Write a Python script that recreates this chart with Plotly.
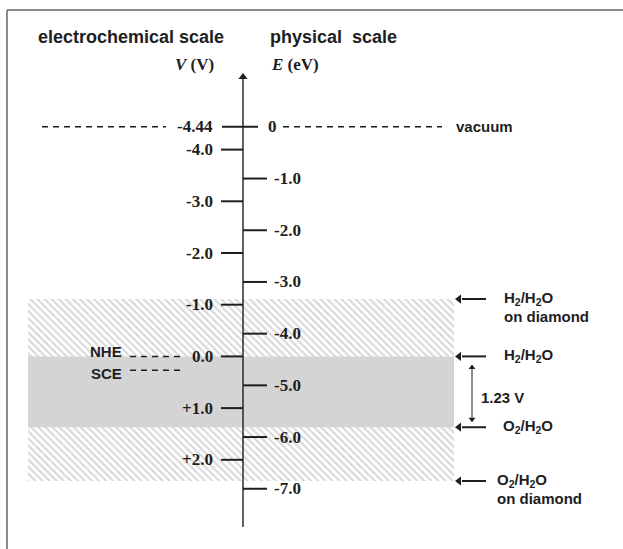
import plotly.graph_objects as go

# ---------------- data ----------------
V_TICKS = [-4.0, -3.0, -2.0, -1.0, 0.0, 1.0, 2.0]
V_TICK_LABELS = ["-4.0", "-3.0", "-2.0", "-1.0", "0.0", "+1.0", "+2.0"]
E_TICKS = [-1.0, -2.0, -3.0, -4.0, -5.0, -6.0, -7.0]
E_TICK_LABELS = ["-1.0", "-2.0", "-3.0", "-4.0", "-5.0", "-6.0", "-7.0"]
VACUUM_V = -4.44              # vacuum level on electrochemical scale (E = 0 eV)
DIAMOND_WINDOW = [-1.11, 2.41]  # H2/H2O and O2/H2O on diamond (as drawn, V)
WATER_WINDOW = [0.0, 1.37]      # H2/H2O and O2/H2O (as drawn, V)
NHE_V = 0.0
SCE_V = 0.27
WINDOW_LABEL = "1.23 V"

# ---------------- geometry helpers ----------------
W, H = 623, 549
Y0, SLOPE = 356.4, 51.7          # pixel mapping of the V axis
V_TOP = (0 - Y0) / SLOPE
V_BOT = (H - Y0) / SLOPE


def vpx(px):
    return (px - Y0) / SLOPE


def dv(px):
    return px / SLOPE


def pap(px):
    return 1 - px / H


def e_to_v(e):
    return VACUUM_V - e


AX = 243
DARK = "#1e1e1e"
SERIF = "Liberation Serif"
SANS = "Liberation Sans"

fig = go.Figure()


def line(x, y, width=1.5, dash=None, color=DARK):
    fig.add_trace(go.Scatter(x=x, y=y, mode="lines",
                             line=dict(color=color, width=width, dash=dash),
                             hoverinfo="skip", showlegend=False))


def head(x, y, symbol, size):
    fig.add_trace(go.Scatter(x=[x], y=[y], mode="markers",
                             marker=dict(symbol=symbol, size=size, color=DARK, line=dict(width=0)),
                             hoverinfo="skip", showlegend=False))


# hatched diamond window
bx0, bx1 = 28, 454
fig.add_trace(go.Scatter(
    x=[bx0, bx1, bx1, bx0, bx0],
    y=[DIAMOND_WINDOW[0], DIAMOND_WINDOW[0], DIAMOND_WINDOW[1], DIAMOND_WINDOW[1], DIAMOND_WINDOW[0]],
    mode="lines", line=dict(width=0), fill="toself", fillcolor="white",
    fillpattern=dict(shape="\\", fgcolor="#b4b4b4", bgcolor="#ffffff", size=5, solidity=0.45),
    hoverinfo="skip", showlegend=False))
# gray water window
fig.add_trace(go.Scatter(
    x=[bx0, bx1, bx1, bx0, bx0],
    y=[WATER_WINDOW[0], WATER_WINDOW[0], WATER_WINDOW[1], WATER_WINDOW[1], WATER_WINDOW[0]],
    mode="lines", line=dict(width=0), fill="toself", fillcolor="#d4d4d4",
    hoverinfo="skip", showlegend=False))

# vacuum dashed lines
line([42, 166], [VACUUM_V, VACUUM_V], dash="6px,5px")
line([283, 442], [VACUUM_V, VACUUM_V], dash="6px,5px")
# NHE / SCE dashed
for v in (NHE_V, SCE_V):
    line([130, 183], [v, v], dash="6px,5px")

# ticks
tx, ty = [], []
for v in V_TICKS:
    tx += [221, AX, None]
    ty += [v, v, None]
for e in E_TICKS:
    tx += [AX, 267, None]
    ty += [e_to_v(e), e_to_v(e), None]
tx += [222, 258]
ty += [VACUUM_V, VACUUM_V]
line(tx, ty, width=2)

# main axis with arrow head
line([AX, AX], [vpx(527), vpx(78)], width=1.4)
head(AX, vpx(77), "triangle-up", 8)

ann = []
tick_font = dict(family=SERIF, size=17, color=DARK)
for v, lab in zip(V_TICKS, V_TICK_LABELS):
    ann.append(dict(x=215, y=v, text="<b>%s</b>" % lab, showarrow=False, xanchor="right",
                    yanchor="middle", font=tick_font))
for e, lab in zip(E_TICKS, E_TICK_LABELS):
    ann.append(dict(x=272, y=e_to_v(e), text="<b>%s</b>" % lab, showarrow=False, xanchor="left",
                    yanchor="middle", font=tick_font))
ann.append(dict(x=215, y=VACUUM_V, text="<b>%.2f</b>" % VACUUM_V, showarrow=False, xanchor="right",
                yanchor="middle", font=tick_font))
ann.append(dict(x=266, y=VACUUM_V, text="<b>0</b>", showarrow=False, xanchor="left",
                yanchor="middle", font=tick_font))

# headers
head_font = dict(family=SANS, size=18, color=DARK)
ann.append(dict(x=36, y=pap(37), yref="paper", text="<b>electrochemical scale</b>", showarrow=False,
                xanchor="left", yanchor="middle", font=head_font))
ann.append(dict(x=268, y=pap(37), yref="paper", text="<b>physical&nbsp; scale</b>", showarrow=False,
                xanchor="left", yanchor="middle", font=head_font))
ann.append(dict(x=216, y=pap(65), yref="paper", text="<b><i>V</i> (V)</b>", showarrow=False,
                xanchor="right", yanchor="middle", font=tick_font))
ann.append(dict(x=269, y=pap(65), yref="paper", text="<b><i>E</i> (eV)</b>", showarrow=False,
                xanchor="left", yanchor="middle", font=tick_font))

lab_font = dict(family=SANS, size=15, color=DARK)
ann.append(dict(x=454, y=VACUUM_V, text="<b>vacuum</b>", showarrow=False, xanchor="left",
                yanchor="middle", font=lab_font))
ann.append(dict(x=124, y=NHE_V, yshift=5, text="<b>NHE</b>", showarrow=False, xanchor="right",
                yanchor="middle", font=lab_font))
ann.append(dict(x=124, y=SCE_V, yshift=-3, text="<b>SCE</b>", showarrow=False, xanchor="right",
                yanchor="middle", font=lab_font))

# level arrows + labels
levels = [
    (DIAMOND_WINDOW[0], "H<sub>2</sub>/H<sub>2</sub>O", "on diamond", 502),
    (WATER_WINDOW[0], "H<sub>2</sub>/H<sub>2</sub>O", None, 502),
    (WATER_WINDOW[1], "O<sub>2</sub>/H<sub>2</sub>O", None, 501),
    (DIAMOND_WINDOW[1], "O<sub>2</sub>/H<sub>2</sub>O", "on diamond", 495),
]
for v, l1, l2, xl in levels:
    line([462, 486], [v, v], width=2)
    head(459, v, "triangle-left", 8)
    ann.append(dict(x=xl, y=v, text="<b>%s</b>" % l1, showarrow=False, xanchor="left",
                    yanchor="middle", yshift=1, font=lab_font))
    if l2:
        ann.append(dict(x=xl, y=v, text="<b>%s</b>" % l2, showarrow=False, xanchor="left",
                        yanchor="middle", yshift=-17, font=lab_font))

# 1.23 V double arrow
line([472, 472], [WATER_WINDOW[0] + dv(12), WATER_WINDOW[1] - dv(9)], width=1)
head(472, WATER_WINDOW[0] + dv(11), "triangle-up", 6)
head(472, WATER_WINDOW[1] - dv(8), "triangle-down", 6)
ann.append(dict(x=479, y=(WATER_WINDOW[0] + WATER_WINDOW[1]) / 2, yshift=-6, text="<b>%s</b>" % WINDOW_LABEL,
                showarrow=False, xanchor="left", yanchor="middle", font=lab_font))

shapes = [
    dict(type="line", xref="x", yref="paper", x0=7, x1=W, y0=pap(10), y1=pap(10),
         line=dict(color="#666666", width=1.5)),
    dict(type="line", xref="x", yref="paper", x0=7, x1=7, y0=pap(10), y1=0,
         line=dict(color="#666666", width=1.5)),
]

fig.update_layout(
    width=W, height=H, margin=dict(l=0, r=0, t=0, b=0),
    paper_bgcolor="white", plot_bgcolor="white",
    xaxis=dict(range=[0, W], visible=False, fixedrange=True),
    yaxis=dict(range=[V_BOT, V_TOP], visible=False, fixedrange=True),
    annotations=ann, shapes=shapes, showlegend=False,
)

fig.write_html("out.html")
